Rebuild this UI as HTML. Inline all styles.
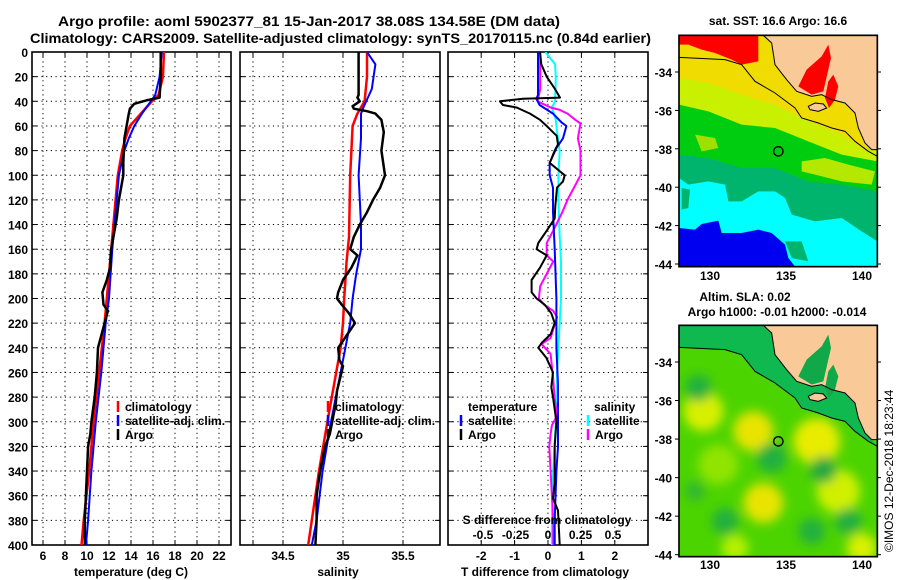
<!DOCTYPE html>
<html><head><meta charset="utf-8">
<style>
html,body{margin:0;padding:0;background:#fff;}
svg{display:block;font-family:"Liberation Sans",Arial,sans-serif;font-weight:bold;}
</style></head>
<body>
<svg id="chart" width="900" height="580" viewBox="0 0 900 580" xmlns="http://www.w3.org/2000/svg">
<defs>
<clipPath id="cp1"><rect x="32" y="52" width="199" height="493"/></clipPath>
<clipPath id="cp2"><rect x="240" y="52" width="200" height="493"/></clipPath>
<clipPath id="cp3"><rect x="448" y="52" width="200" height="493"/></clipPath>
<clipPath id="cm1"><rect x="12" y="22" width="595" height="694"/></clipPath>
<clipPath id="cm2"><rect x="12" y="22" width="595" height="694"/></clipPath>
<filter id="blur" x="-20%" y="-20%" width="140%" height="140%"><feGaussianBlur stdDeviation="16"/></filter>
</defs>
<text x="58" y="26" font-size="14" textLength="502" lengthAdjust="spacingAndGlyphs">Argo profile: aoml 5902377_81 15-Jan-2017 38.08S 134.58E (DM data)</text>
<text x="30" y="43" font-size="14" textLength="621" lengthAdjust="spacingAndGlyphs">Climatology: CARS2009. Satellite-adjusted climatology: synTS_20170115.nc (0.84d earlier)</text>
<g id="panels"></g>

<!-- Map 1 : SST -->
<text x="778" y="25" font-size="12" text-anchor="middle">sat. SST: 16.6 Argo: 16.6</text>
<g transform="translate(675,28) scale(0.33333)">
<g clip-path="url(#cm1)">
<rect x="12" y="22" width="595" height="694" fill="#0000F0"/>
<polygon fill="#00FFFF" points="12,22 607,22 607,716 360,716 340,690 330,650 290,615 250,605 200,615 140,615 130,578 80,588 60,605 12,600"/>
<polygon fill="#00B46E" points="12,22 607,22 607,640 560,610 500,570 420,580 350,560 330,510 300,490 250,490 200,520 160,520 150,470 100,460 40,470 12,450"/>
<polygon fill="#00B46E" points="20,480 45,485 40,540 20,545"/>
<polygon fill="#00B46E" points="330,640 380,640 400,700 350,690"/>
<polygon fill="#00CC10" points="12,22 607,22 607,490 500,470 400,460 300,420 200,420 100,390 12,380"/>
<polygon fill="#C8F000" points="12,22 607,22 607,400 500,380 400,340 300,300 200,290 100,250 12,230"/>
<polygon fill="#B4E800" points="380,400 450,390 520,410 600,430 590,470 500,460 420,440 380,430"/>
<polygon fill="#A0E000" points="60,320 120,330 130,360 80,370"/>
<polygon fill="#F0DC00" points="12,22 607,22 607,370 560,360 500,320 400,280 300,230 200,200 100,165 12,150"/>
<polygon fill="#FF0000" points="12,22 250,22 250,100 200,110 170,95 120,75 80,65 40,50 12,50"/>
<polygon fill="#F9CA98" points="265,22 290,45 300,110 335,155 365,190 410,205 440,200 470,215 510,225 540,255 550,300 570,345 590,365 607,365 607,22"/>
<polygon fill="#FF0000" points="370,175 395,125 440,85 460,50 468,90 445,190 410,200"/>
<polygon fill="#FF0000" points="460,160 475,140 490,175 480,215 462,240 450,210"/>
<polygon fill="#F9CA98" stroke="#000" stroke-width="3" points="400,235 420,225 445,228 455,240 430,250 405,245"/>
<polyline fill="none" stroke="#000" stroke-width="3" points="265,22 290,45 300,110 335,155 365,190 410,205 440,200 470,215 510,225 540,255 550,300 570,345 590,365 607,365"/>
<polyline fill="none" stroke="#000" stroke-width="3" points="12,88 150,95 200,110 240,160 300,195 360,240 380,270 430,285 470,300 510,310 540,340 580,370 607,385"/>
<circle cx="310" cy="370" r="14" fill="none" stroke="#000" stroke-width="4"/>
</g>
<rect x="12" y="22" width="595" height="694" fill="none" stroke="#000" stroke-width="5"/>
</g>

<!-- Map 2 : SLA -->
<text x="745" y="301" font-size="12" text-anchor="middle">Altim. SLA: 0.02</text>
<text x="777" y="316" font-size="12" text-anchor="middle">Argo h1000: -0.01 h2000: -0.014</text>
<g transform="translate(675,318) scale(0.33333)">
<g clip-path="url(#cm2)">
<rect x="12" y="22" width="595" height="694" fill="#4CD400"/>
<g filter="url(#blur)">
<circle cx="85" cy="280" r="60" fill="#D8F000"/>
<circle cx="235" cy="340" r="60" fill="#E8E400"/>
<circle cx="265" cy="555" r="60" fill="#E8E400"/>
<circle cx="425" cy="370" r="70" fill="#E8EC00"/>
<circle cx="490" cy="520" r="65" fill="#D0F000"/>
<circle cx="560" cy="690" r="45" fill="#D8F000"/>
<circle cx="180" cy="690" r="40" fill="#B8F000"/>
<circle cx="130" cy="440" r="60" fill="#90E400"/>
<circle cx="70" cy="210" r="40" fill="#20B040"/>
<circle cx="290" cy="420" r="45" fill="#20B040"/>
<circle cx="445" cy="455" r="40" fill="#20A840"/>
<circle cx="150" cy="610" r="40" fill="#20B040"/>
<circle cx="520" cy="610" r="40" fill="#20B040"/>
<circle cx="410" cy="640" r="40" fill="#20B040"/>
<circle cx="60" cy="520" r="30" fill="#30B830"/>
</g>
<polygon fill="#10B850" points="12,22 265,22 290,45 300,110 335,155 365,190 410,205 440,200 470,215 510,225 540,255 550,300 570,345 590,365 607,385 580,370 540,340 510,310 470,300 430,285 380,270 360,240 300,195 240,160 200,110 150,95 12,88"/>
<polygon fill="#F9CA98" points="265,22 290,45 300,110 335,155 365,190 410,205 440,200 470,215 510,225 540,255 550,300 570,345 590,365 607,365 607,22"/>
<polygon fill="#10A848" points="370,175 395,125 440,85 460,50 468,90 445,190 410,200"/>
<polygon fill="#10A848" points="460,160 475,140 490,175 480,215 462,240 450,210"/>
<polygon fill="#F9CA98" stroke="#000" stroke-width="3" points="400,235 420,225 445,228 455,240 430,250 405,245"/>
<polyline fill="none" stroke="#000" stroke-width="3" points="265,22 290,45 300,110 335,155 365,190 410,205 440,200 470,215 510,225 540,255 550,300 570,345 590,365 607,365"/>
<polyline fill="none" stroke="#000" stroke-width="3" points="12,88 150,95 200,110 240,160 300,195 360,240 380,270 430,285 470,300 510,310 540,340 580,370 607,385"/>
<circle cx="310" cy="370" r="14" fill="none" stroke="#000" stroke-width="4"/>
</g>
<rect x="12" y="22" width="595" height="694" fill="none" stroke="#000" stroke-width="5"/>
</g>
<g id="mapaxes"></g>
<text transform="translate(893,552) rotate(-90)" font-size="12" font-weight="normal">©IMOS 12-Dec-2018 18:23:44</text>
</svg>
<script>
// ---- data ----
const tDepth   = [0,20,37,39,42,46,50,60,70,90,100,110,120,135,150,160,175,185,195,205,210,220,240,260,280,300,310,320,340,360,380,400];
const tArgo    = [16.7,16.7,16.6,15.5,14.3,13.9,13.8,13.6,13.4,13.3,13.3,13.1,12.9,12.7,12.4,12.2,12.1,11.8,11.4,11.5,11.9,11.6,11.0,10.9,10.7,10.4,10.3,10.1,10.0,9.9,9.8,9.8];
const climDepth = [0,20,35,40,50,60,70,80,100,140,160,200,220,260,300,340,380,400];
const tClim    = [17.0,16.9,16.5,15.9,14.9,13.9,13.5,13.2,12.8,12.4,12.2,11.8,11.6,11.1,10.6,10.2,9.7,9.5];
const tSat     = [16.8,16.6,16.2,15.8,15.0,14.3,13.8,13.4,12.9,12.5,12.3,12.0,11.7,11.3,10.8,10.4,10.1,9.9];
const sDepth   = [0,35,37,40,44,46,48,50,55,60,65,80,100,110,120,130,140,150,160,165,175,185,195,200,205,212,220,230,240,250,255,275,285,310,320,340,360,380,400];
const sArgo    = [35.13,35.13,35.12,35.14,35.08,35.09,35.2,35.27,35.32,35.33,35.34,35.32,35.35,35.31,35.25,35.2,35.14,35.09,35.06,35.12,35.07,35.0,34.96,34.95,34.99,35.05,35.1,35.03,34.96,34.97,35.0,34.95,34.94,34.89,34.85,34.81,34.78,34.78,34.77];
const sClimDepth = [0,20,40,50,60,80,100,150,170,200,220,240,300,340,400];
const sClim    = [35.2,35.2,35.18,35.12,35.08,35.07,35.06,35.05,35.03,35.01,35.0,34.98,34.87,34.8,34.71];
const sSatDepth = [0,10,30,45,50,70,100,140,160,180,200,220,240,260,300,340,380,400];
const sSat     = [35.2,35.27,35.24,35.17,35.15,35.15,35.13,35.15,35.15,35.11,35.08,35.06,35.02,34.98,34.9,34.83,34.78,34.74];
const dDepth   = [0,10,20,30,37,38,40,43,45,50,55,60,68,75,80,90,100,105,110,125,135,145,155,160,165,175,185,195,200,205,212,220,229,236,240,248,260,272,280,300,320,340,350,362,372,400];
const dTArgo   = [-0.24,-0.2,-0.04,0.21,0.36,-0.75,-1.44,-1.35,-0.94,-0.54,-0.24,-0.04,0.26,0.3,0.2,0.05,0.5,0.45,0.27,0.22,0.2,-0.04,-0.29,-0.34,-0.04,-0.24,-0.49,-0.49,-0.34,-0.1,0.1,0.2,0.08,-0.19,-0.29,-0.05,0.15,0.1,0.15,0.25,0.2,0.2,0.2,0.15,0.3,0.35];
const dTDepth  = [0,20,35,38,43,50,57,60,70,78,90,100,110,130,160,200,220,240,270,300,320,340,380,400];
const dTSat    = [-0.3,-0.3,-0.3,-0.35,-0.25,0.15,0.4,0.55,0.45,0.25,0.05,0.05,0.15,0.15,0.2,0.25,0.25,0.25,0.3,0.3,0.3,0.25,0.2,0.2];
const dSDepth  = [0,10,20,40,45,55,65,80,100,120,150,170,200,220,240,260,300,340,380,400];
const dSSat    = [-0.02,0.055,0.06,0.055,0.03,0.06,0.07,0.09,0.08,0.08,0.09,0.1,0.1,0.09,0.08,0.07,0.06,0.04,0.03,0.03];
const dSADepth = [0,30,40,42,45,47,50,55,58,70,80,100,110,120,130,145,155,165,170,180,190,200,205,210,215,225,232,237,245,255,265,280,295,303,310,320,340,360,380,400];
const dSArgo   = [-0.06,-0.06,-0.08,-0.04,0.02,0.09,0.15,0.21,0.25,0.23,0.25,0.25,0.2,0.15,0.11,0.04,-0.01,-0.01,0.04,-0.01,-0.06,-0.07,-0.03,0.04,0.07,0.04,0.02,-0.05,0.02,0.03,0.04,0.05,0.07,0.03,0.02,0.01,0.02,0.03,0.04,0.04];
const depthTicks = [0,20,40,60,80,100,120,140,160,180,200,220,240,260,280,300,320,340,360,380,400];
const tTicks = [6,8,10,12,14,16,18,20,22];
const sTicks = [34.5,35,35.5];
const dTTicks = [-2,-1,0,1,2];
const dSTicks = [-0.5,-0.25,0,0.25,0.5];
const latTicks = [-34,-36,-38,-40,-42,-44];
const lonTicks = [130,135,140];

// ---- axes ----
const y = d => 52 + d*493/400;
const xT = v => 43 + (v-6)*11;
const xS = v => 343 + (v-35)*120;
const xDT = v => 548 + v*33.4;
const xDS = v => 548 + v*130;
const NS = 'http://www.w3.org/2000/svg';
const root = document.getElementById('panels');
function mk(tag, attrs, parent){const e=document.createElementNS(NS,tag);for(const k in attrs)e.setAttribute(k,attrs[k]);(parent||root).appendChild(e);return e;}
function txt(x,yy,s,size,anchor,parent){const e=mk('text',{x:x,y:yy,'font-size':size,'text-anchor':anchor||'start'},parent);e.textContent=s;return e;}

function panel(name,x0,x1,clip,xs,ticks,fmt,gridTicks){
  const g=mk('g',{});
  
  
  depthTicks.forEach(d=>{if(d>0&&d<400){mk('line',{x1:x0,x2:x1,y1:y(d),y2:y(d),stroke:'#000','stroke-width':1,'stroke-dasharray':'1.2,3.5'},g);}
    mk('line',{x1:x0,x2:x0+5,y1:y(d),y2:y(d),stroke:'#000'},g);mk('line',{x1:x1-5,x2:x1,y1:y(d),y2:y(d),stroke:'#000'},g);});
  gridTicks.forEach(v=>{const xx=xs(v);mk('line',{x1:xx,x2:xx,y1:52,y2:545,stroke:'#000','stroke-width':1,'stroke-dasharray':'1.2,3.5'},g);
    mk('line',{x1:xx,x2:xx,y1:52,y2:57,stroke:'#000'},g);mk('line',{x1:xx,x2:xx,y1:540,y2:545,stroke:'#000'},g);});
  mk('rect',{x:x0,y:52,width:x1-x0,height:493,fill:'none',stroke:'#000','stroke-width':1.6},g);
  ticks.forEach(v=>{const t=txt(xs(v),560,fmt(v),12,'middle',g);
    
    });
  return g;
}
function line(g,depths,vals,xs,color,w,clip,name){
  const pts=depths.map((d,i)=>xs(vals[i]).toFixed(1)+','+y(d).toFixed(1)).join(' ');
  const p=mk('polyline',{points:pts,fill:'none',stroke:color,'stroke-width':w,'clip-path':'url(#'+clip+')','stroke-linejoin':'round'},g);
  
  
}
function legend(g,x,yy,color,label){
  mk('line',{x1:x,x2:x,y1:yy-10,y2:yy+1,stroke:color,'stroke-width':2.5},g);
  const t=txt(x+7,yy,label,12,'start',g);
  
  
}
depthTicks.forEach(d=>{const t=txt(28,y(d)+5,String(d),12,'end');
  
  });

const g1=panel('temperature-panel',32,231,'cp1',xT,tTicks,v=>String(v),tTicks);
line(g1,climDepth,tClim,xT,'#FF0000',2.5,'cp1','temp-climatology-line');
line(g1,climDepth,tSat,xT,'#0000FF',2,'cp1','temp-satellite-line');
line(g1,tDepth,tArgo,xT,'#000',2.5,'cp1','temp-argo-line');
legend(g1,118,411,'#FF0000','climatology');legend(g1,118,425,'#0000FF','satellite-adj. clim.');legend(g1,118,439,'#000','Argo');
const a1=txt(131,576,'temperature (deg C)',12,'middle',g1);



const g2=panel('salinity-panel',240,440,'cp2',xS,sTicks,v=>String(v),[34.25,34.5,35,35.5]);
line(g2,sClimDepth,sClim,xS,'#FF0000',2.5,'cp2','sal-climatology-line');
line(g2,sSatDepth,sSat,xS,'#0000FF',2,'cp2','sal-satellite-line');
line(g2,sDepth,sArgo,xS,'#000',2.5,'cp2','sal-argo-line');
legend(g2,328,411,'#FF0000','climatology');legend(g2,328,425,'#0000FF','satellite-adj. clim.');legend(g2,328,439,'#000','Argo');
const a2=txt(338,576,'salinity',12,'middle',g2);



const g3=panel('difference-panel',448,648,'cp3',xDT,dTTicks,v=>String(v),dTTicks);
line(g3,dSDepth,dSSat,xDS,'#00FFFF',2,'cp3','sal-diff-satellite-line');
line(g3,dSADepth,dSArgo,xDS,'#FF00FF',2,'cp3','sal-diff-argo-line');
line(g3,dTDepth,dTSat,xDT,'#0000FF',2,'cp3','temp-diff-satellite-line');
line(g3,dDepth,dTArgo,xDT,'#000',2,'cp3','temp-diff-argo-line');
const lt=txt(468,411,'temperature',12,'start',g3);


legend(g3,461,425,'#0000FF','satellite');legend(g3,461,439,'#000','Argo');
const ls=txt(594,411,'salinity',12,'start',g3);


legend(g3,588,425,'#00FFFF','satellite');legend(g3,588,439,'#FF00FF','Argo');
const sd=txt(547,524,'S difference from climatology',12,'middle',g3);


dSTicks.forEach(v=>{const t=txt(xDS(v),539,String(v),12,'middle',g3);
  
  });
const a3=txt(545,576,'T difference from climatology',12,'middle',g3);



const ma=document.getElementById('mapaxes');
const lonX = v => 862 + (v-140)*15.2;
const latY1 = v => 72 + (-34 - v)*19.2;
const latY2 = v => 362 + (-34 - v)*19.27;
[[latY1,280],[latY2,569]].forEach(([ly,by])=>{
  latTicks.forEach(v=>{const t=txt(672,ly(v)+5,String(v),12,'end',ma);
    
    
    mk('line',{x1:675,x2:679,y1:ly(v),y2:ly(v),stroke:'#000'},ma);
    mk('line',{x1:877,x2:881,y1:ly(v),y2:ly(v),stroke:'#000'},ma);});
  lonTicks.forEach(v=>{const t=txt(lonX(v),by,String(v),12,'middle',ma);
    
    });
});
</script>
</body></html>
